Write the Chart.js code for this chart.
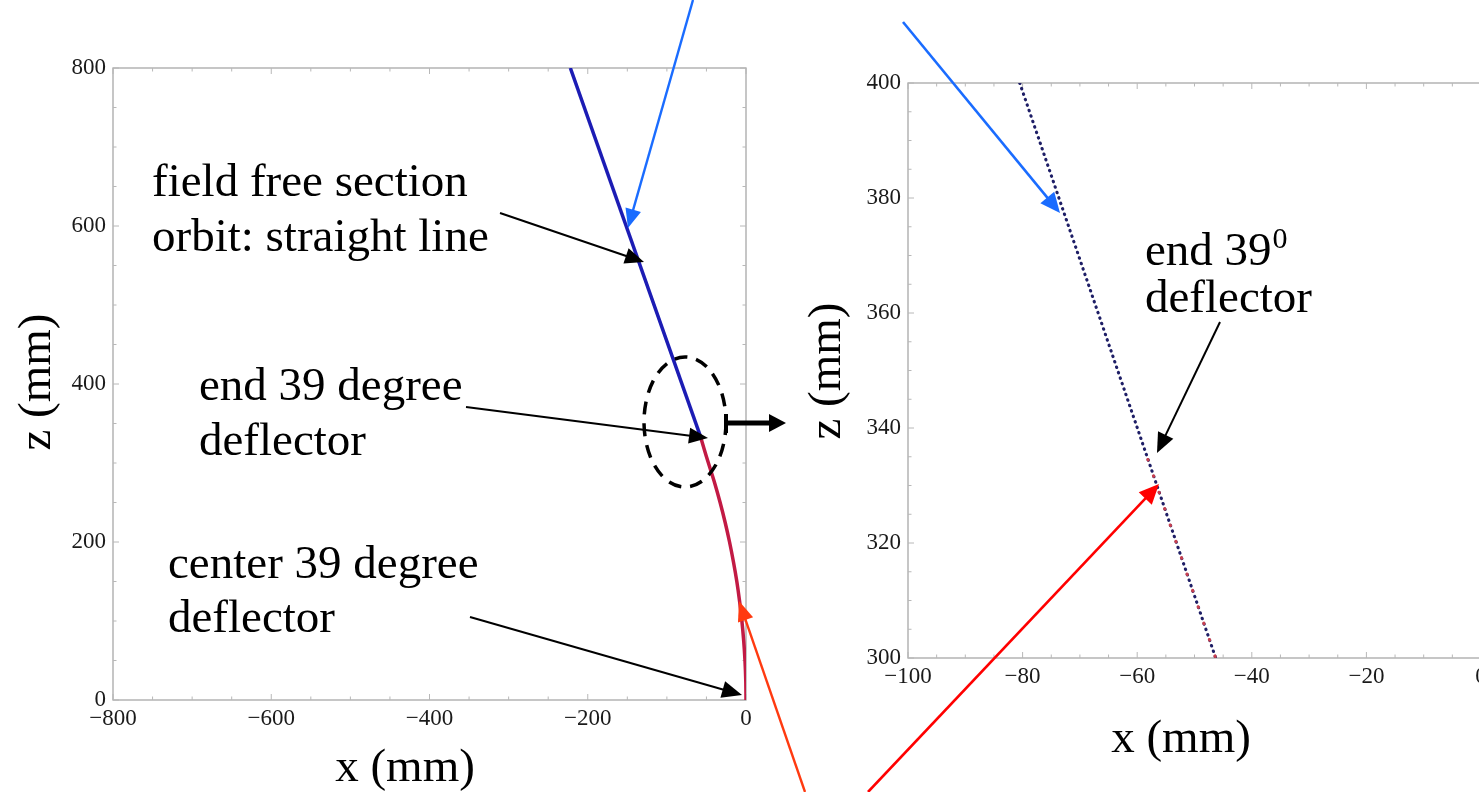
<!DOCTYPE html>
<html>
<head>
<meta charset="utf-8">
<script src="https://cdn.jsdelivr.net/npm/chart.js@4"></script>
<style>
  html, body { margin: 0; padding: 0; background: #fff; overflow: hidden; }
  body { width: 1479px; height: 792px; position: relative; }
  canvas { position: absolute; top: 0; }
  #left { left: 0; }
  #right { left: 770px; }
  #notes { left: 0; pointer-events: none; }
</style>
</head>
<body>
<canvas id="left" width="760" height="792"></canvas>
<canvas id="right" width="800" height="792"></canvas>
<canvas id="notes" width="1479" height="792"></canvas>
<script>
// left plot: the whole orbit, x and z in mm
const leftXTicks = [-800, -600, -400, -200, 0];
const leftZTicks = [0, 200, 400, 600, 800];
// field free section (straight line)
const freeX = [-222, -58];
const freeZ = [800, 335];
// 39 degree deflector (curved part)
const arcX = [0, -0.3, -1.3, -2.9, -5.2, -8.1, -11.6, -15.9, -20.8, -26.4, -32.7, -39.7, -47.5, -53, -58];
const arcZ = [0, 25, 50, 75, 100, 125, 150, 175, 200, 225, 250, 275, 300, 318, 335];

// right plot: close up around the end of the deflector
const zoomXTicks = [-100, -80, -60, -40, -20, 0];
const zoomZTicks = [300, 320, 340, 360, 380, 400];
const zoomFreeX = [-80.5, -46.3];
const zoomFreeZ = [400, 300];
const zoomArcX = [-58.3, -46.3];
const zoomArcZ = [335, 300];

const serif = '"Liberation Serif", "Times New Roman", serif';
const tickFont = { family: serif, size: 23 };

function fmt(v) {
  return v < 0 ? '\u2212' + Math.abs(v) : String(v);
}

function points(xs, zs) {
  return xs.map((x, i) => ({ x: x, y: zs[i] }));
}

// gray box round the plot with small ticks pointing inward
const frame = {
  id: 'frame',
  beforeDatasetsDraw(chart, args, opts) {
    const { ctx, chartArea: a } = chart;
    const sx = chart.scales.x, sy = chart.scales.y;
    ctx.save();
    ctx.strokeStyle = '#a8a8a8';
    ctx.lineWidth = 1.3;
    ctx.strokeRect(a.left, a.top, a.right - a.left, a.bottom - a.top);
    ctx.lineWidth = 1;
    ctx.strokeStyle = '#b8b8b8';
    ctx.beginPath();
    for (let v = sx.min; v <= sx.max + 1e-6; v += opts.minor) {
      const p = sx.getPixelForValue(v);
      const len = Math.abs(v % opts.major) < 1e-6 ? 6 : 3.5;
      ctx.moveTo(p, a.bottom); ctx.lineTo(p, a.bottom - len);
      ctx.moveTo(p, a.top); ctx.lineTo(p, a.top + len);
    }
    for (let v = sy.min; v <= sy.max + 1e-6; v += opts.minor) {
      const p = sy.getPixelForValue(v);
      const len = Math.abs(v % opts.major) < 1e-6 ? 6 : 3.5;
      ctx.moveTo(a.left, p); ctx.lineTo(a.left + len, p);
      if (opts.right) { ctx.moveTo(a.right, p); ctx.lineTo(a.right - len, p); }
    }
    ctx.stroke();
    ctx.restore();
  }
};

function axis(ticks, size, vertical) {
  return {
    type: 'linear',
    min: ticks[0],
    max: ticks[ticks.length - 1],
    afterBuildTicks: s => { s.ticks = ticks.map(v => ({ value: v })); },
    afterFit: s => { if (vertical) s.width = size; else s.height = size; },
    grid: { display: false, drawTicks: false },
    border: { display: false },
    ticks: {
      font: tickFont,
      color: '#1a1a1a',
      padding: vertical ? 7 : 5,
      maxRotation: 0,
      autoSkip: false,
      callback: fmt
    }
  };
}

const leftChart = new Chart(document.getElementById('left'), {
  type: 'scatter',
  data: {
    datasets: [
      {
        label: 'deflector',
        data: points(arcX, arcZ),
        showLine: true,
        borderColor: '#c21a44',
        borderWidth: 3.5,
        pointRadius: 0,
        tension: 0.3
      },
      {
        label: 'field free',
        data: points(freeX, freeZ),
        showLine: true,
        borderColor: '#1c1cb4',
        borderWidth: 3.5,
        pointRadius: 0
      }
    ]
  },
  options: {
    responsive: false,
    animation: false,
    layout: { padding: { left: 0, top: 68, right: 14, bottom: 0 } },
    plugins: {
      legend: { display: false },
      tooltip: { enabled: false },
      frame: { minor: 50, major: 200, right: true }
    },
    scales: {
      x: axis(leftXTicks, 92, false),
      y: axis(leftZTicks, 113, true)
    }
  },
  plugins: [frame]
});

const rightChart = new Chart(document.getElementById('right'), {
  type: 'scatter',
  data: {
    datasets: [
      {
        label: 'deflector',
        data: points(zoomArcX, zoomArcZ),
        showLine: true,
        borderColor: '#c8404f',
        borderWidth: 3.1,
        borderCapStyle: 'round',
        borderDash: [0.5, 16.8],
        borderDashOffset: -2.9,
        pointRadius: 0
      },
      {
        label: 'field free',
        data: points(zoomFreeX, zoomFreeZ),
        showLine: true,
        borderColor: '#1e1e66',
        borderWidth: 3.1,
        borderCapStyle: 'round',
        borderDash: [0.5, 5.27],
        pointRadius: 0
      }
    ]
  },
  options: {
    responsive: false,
    animation: false,
    layout: { padding: { left: 0, top: 83, right: 89, bottom: 0 } },
    plugins: {
      legend: { display: false },
      tooltip: { enabled: false },
      frame: { minor: 5, major: 20, right: false }
    },
    scales: {
      x: axis(zoomXTicks, 134, false),
      y: axis(zoomZTicks, 138, true)
    }
  },
  plugins: [frame]
});

// annotation layer: labels, arrows, dashed ellipse
const ctx = document.getElementById('notes').getContext('2d');

function arrow(x1, y1, x2, y2, color, width, headLen, headW) {
  const a = Math.atan2(y2 - y1, x2 - x1);
  const bx = x2 - headLen * Math.cos(a), by = y2 - headLen * Math.sin(a);
  ctx.strokeStyle = color;
  ctx.fillStyle = color;
  ctx.lineWidth = width;
  ctx.setLineDash([]);
  ctx.beginPath();
  ctx.moveTo(x1, y1);
  ctx.lineTo(bx + Math.cos(a), by + Math.sin(a));
  ctx.stroke();
  ctx.beginPath();
  ctx.moveTo(x2, y2);
  ctx.lineTo(bx + headW * Math.sin(a), by - headW * Math.cos(a));
  ctx.lineTo(bx - headW * Math.sin(a), by + headW * Math.cos(a));
  ctx.closePath();
  ctx.fill();
}

function label(text, x, y) {
  ctx.fillText(text, x, y);
}

ctx.fillStyle = '#000';
ctx.textBaseline = 'alphabetic';
ctx.textAlign = 'left';
ctx.font = '47px ' + serif;
label('field free section', 152, 196);
label('orbit: straight line', 152, 251);
label('end 39 degree', 199, 400);
label('deflector', 199, 455);
label('center 39 degree', 168, 578);
label('deflector', 168, 632);
label('end 39', 1145, 265);
const w39 = ctx.measureText('end 39').width;
label('deflector', 1145, 312);
ctx.font = '30px ' + serif;
label('0', 1145 + w39 + 1, 248);

// axis titles
ctx.font = '47px ' + serif;
ctx.textAlign = 'center';
label('x (mm)', 405, 781);
label('x (mm)', 1181, 752);
ctx.save();
ctx.translate(50, 382);
ctx.rotate(-Math.PI / 2);
label('z (mm)', 0, 0);
ctx.restore();
ctx.save();
ctx.translate(840, 371);
ctx.rotate(-Math.PI / 2);
label('z (mm)', 0, 0);
ctx.restore();

// arrows
arrow(693, 0, 628, 228, '#1a6cff', 2.4, 19, 8);
arrow(500, 213, 644, 262, '#000', 2, 19, 8);
arrow(466, 407, 708, 438, '#000', 2, 19, 8);
arrow(470, 617, 742, 695, '#000', 2, 20, 8.5);
arrow(805, 792, 739, 601, '#ff3a10', 2.4, 20, 8);
arrow(903, 22, 1060, 213, '#1a6cff', 2.6, 20, 9);
arrow(1220, 322, 1157, 453, '#000', 2, 20, 8.5);
arrow(868, 792, 1159, 484, '#ff0000', 2.6, 20, 9);

// dashed ellipse round the end of the deflector and the arrow to the close up
ctx.strokeStyle = '#000';
ctx.lineWidth = 3.5;
ctx.setLineDash([13, 9]);
ctx.beginPath();
ctx.ellipse(685, 422, 41, 65, 0, 0, Math.PI * 2);
ctx.stroke();
ctx.setLineDash([]);
arrow(726, 423, 786, 423, '#000', 5, 17, 9);
ctx.lineWidth = 4;
ctx.beginPath();
ctx.moveTo(726, 414);
ctx.lineTo(726, 433);
ctx.stroke();
</script>
</body>
</html>
